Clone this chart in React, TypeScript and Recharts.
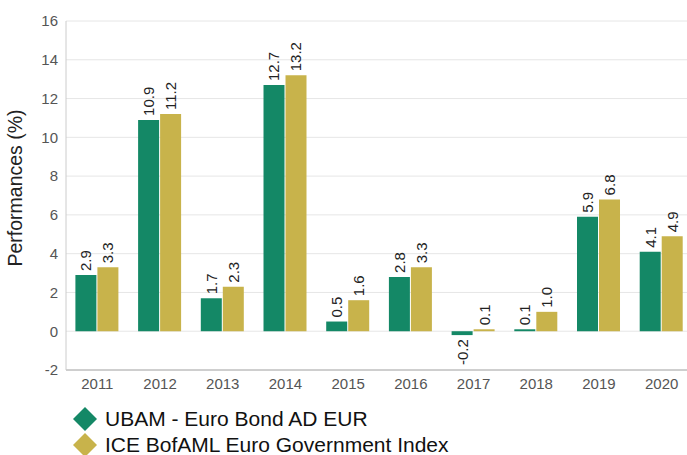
import React from "react";
import { BarChart, Bar, XAxis, YAxis, CartesianGrid, LabelList } from "recharts";

const years = ["2011", "2012", "2013", "2014", "2015", "2016", "2017", "2018", "2019", "2020"];
const ubam = [2.9, 10.9, 1.7, 12.7, 0.5, 2.8, -0.2, 0.1, 5.9, 4.1];
const ice = [3.3, 11.2, 2.3, 13.2, 1.6, 3.3, 0.1, 1.0, 6.8, 4.9];
const yTicks = [-2, 0, 2, 4, 6, 8, 10, 12, 14, 16];
const seriesNames = ["UBAM - Euro Bond AD EUR", "ICE BofAML Euro Government Index"];

const GREEN = "#148866";
const GOLD = "#C8B34B";
const FONT = "'Liberation Sans', Arial, sans-serif";

const data = years.map((y, i) => ({ year: y, ubam: ubam[i], ice: ice[i] }));

const renderValue = (props: any) => {
  const { x, y, width, height, value } = props;
  const v = Number(value);
  const cx = Number(x) + Number(width) / 2;
  const top = Math.min(Number(y), Number(y) + Number(height));
  const bottom = Math.max(Number(y), Number(y) + Number(height));
  const pos = v >= 0;
  const ty = pos ? top - 4 : bottom + 4;
  return (
    <text
      x={cx}
      y={ty}
      transform={`rotate(-90, ${cx}, ${ty})`}
      textAnchor={pos ? "start" : "end"}
      dominantBaseline="central"
      fontSize={15}
      fontFamily={FONT}
      fill="#222"
    >
      {v.toFixed(1)}
    </text>
  );
};

const YTitle = () => (
  <text
    x={15}
    y={188}
    transform="rotate(-90, 15, 188)"
    textAnchor="middle"
    dominantBaseline="central"
    fontSize={19.5}
    fontFamily={FONT}
    fill="#222"
  >
    Performances (%)
  </text>
);

const Diamond = ({ color }: { color: string }) => (
  <svg width={26} height={26} style={{ display: "block" }}>
    <polygon points="13,1 25,13 13,25 1,13" fill={color} />
  </svg>
);

export default function App() {
  const colors = [GREEN, GOLD];
  return (
    <div
      style={{
        position: "absolute",
        left: 0,
        top: 0,
        width: 687,
        height: 455,
        overflow: "hidden",
        background: "#fff",
        fontFamily: FONT,
      }}
    >
      <BarChart
        width={700}
        height={455}
        data={data}
        margin={{ top: 21, right: 7, left: 0, bottom: 60 }}
        barCategoryGap="15%"
        barGap={1}
      >
        <CartesianGrid vertical={false} stroke="#e6e6e6" />
        <XAxis
          dataKey="year"
          height={25}
          tickLine={false}
          axisLine={{ stroke: "#aaaaaa" }}
          tick={{ fontSize: 15, fill: "#555", fontFamily: FONT }}
        />
        <YAxis
          width={66}
          domain={[-2, 16]}
          ticks={yTicks}
          interval={0}
          tickLine={false}
          axisLine={{ stroke: "#cccccc" }}
          tick={{ fontSize: 15, fill: "#555", fontFamily: FONT }}
          label={<YTitle />}
        />
        <Bar dataKey="ubam" name={seriesNames[0]} fill={GREEN} isAnimationActive={false}>
          <LabelList dataKey="ubam" content={renderValue} />
        </Bar>
        <Bar dataKey="ice" name={seriesNames[1]} fill={GOLD} isAnimationActive={false}>
          <LabelList dataKey="ice" content={renderValue} />
        </Bar>
      </BarChart>
      <div style={{ position: "absolute", left: 72, top: 406 }}>
        {seriesNames.map((n, i) => (
          <div
            key={n}
            style={{ display: "flex", alignItems: "center", height: 26, marginBottom: 0 }}
          >
            <Diamond color={colors[i]} />
            <span style={{ marginLeft: 7, fontSize: 21, color: "#111", lineHeight: "26px" }}>{n}</span>
          </div>
        ))}
      </div>
    </div>
  );
}
